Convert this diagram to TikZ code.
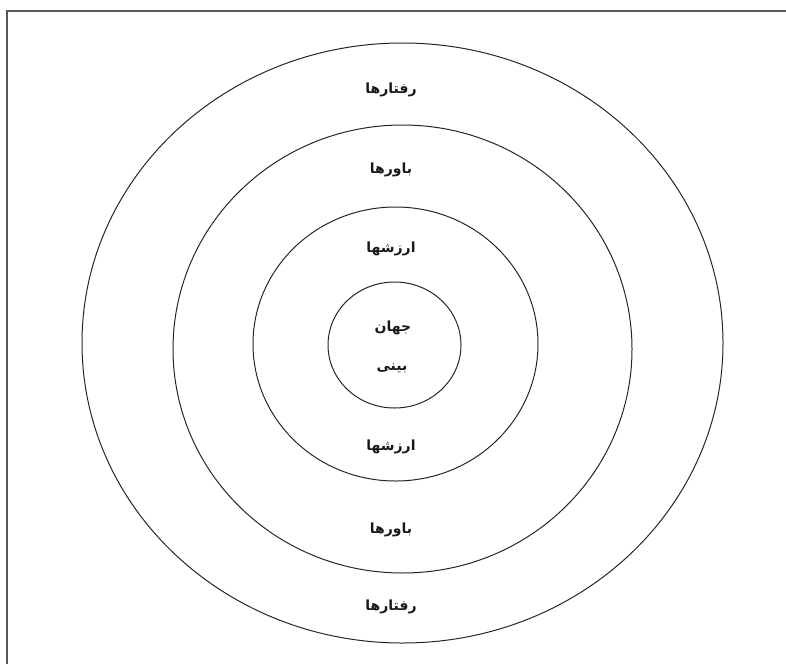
\documentclass[tikz,border=0pt]{standalone}
\usepackage{fontspec}
\newfontfamily\farsi[Script=Arabic]{DejaVu Sans}
\TeXXeTstate=1
\usetikzlibrary{positioning}
\newcommand{\fa}[1]{{\farsi\beginR #1\endR}}

\begin{document}
\begin{tikzpicture}[x=1pt, y=-1pt,
    ring/.style={draw=black!85, line width=1pt},
    lbl/.style={font=\farsi\bfseries\fontsize{14}{16}\selectfont, inner sep=0pt, text=black!90}]
  \useasboundingbox (0,0) rectangle (786,664);
  % page frame, only top and left edge visible
  \draw[black!65, line width=1.5pt] (7,664) -- (7,11) -- (786,11);
  % concentric rings
  \draw[ring] (402.5,343) ellipse [x radius=320.5, y radius=300];
  \draw[ring] (402.5,349) ellipse [x radius=229.5, y radius=224];
  \draw[ring] (395.5,344) ellipse [x radius=142.5, y radius=137];
  \draw[ring] (394.5,345) ellipse [x radius=66.5, y radius=63];
  % outer ring labels
  \node[lbl] (actTop) at (391,90) {\fa{رفتارها}};
  \node[lbl] (actBot) at (391,607) {\fa{رفتارها}};
  % belief ring labels
  \node[lbl] (belTop) at (391,170) {\fa{باورها}};
  \node[lbl] (belBot) at (391,530) {\fa{باورها}};
  % value ring labels
  \node[lbl] (valTop) at (391,249) {\fa{ارزشها}};
  \node[lbl] (valBot) at (391,447) {\fa{ارزشها}};
  % centre
  \node[lbl] (worldA) at (393,328) {\fa{جهان}};
  \node[lbl] (worldB) at (392,368) {\fa{بینی}};
\end{tikzpicture}
\end{document}
